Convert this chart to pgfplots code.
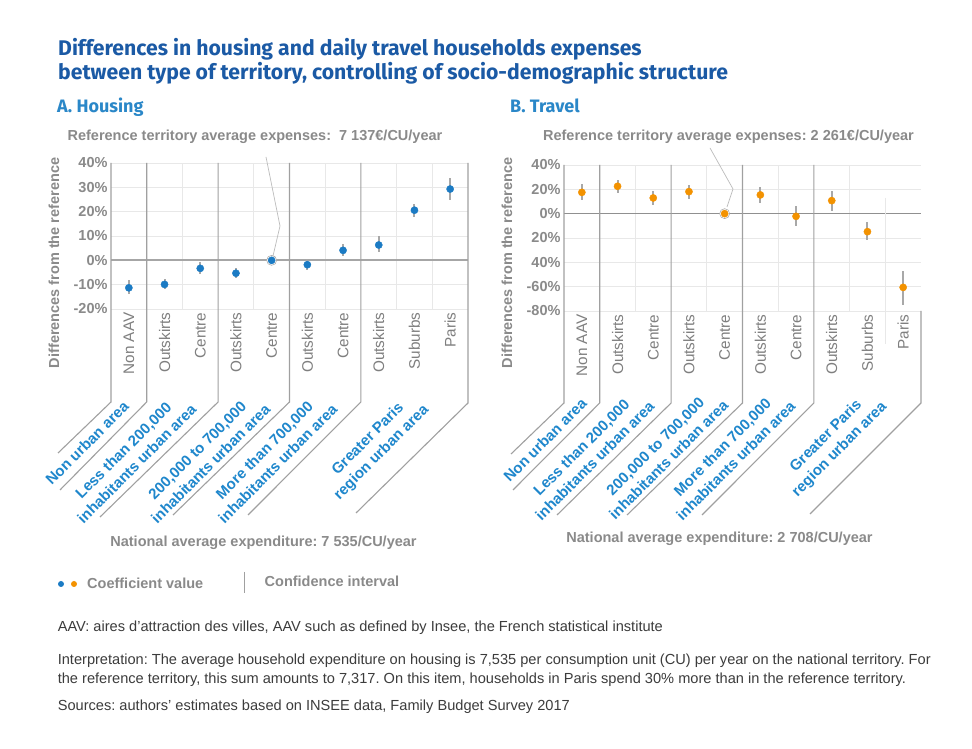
\documentclass[border=0pt]{standalone}
\usepackage{fontspec}
\setmainfont{Liberation Sans}
\newfontfamily\titlefont{Fira Sans}
\usepackage{pgfplots}
\pgfplotsset{compat=1.18}
\usepackage{pgfplotstable}

\definecolor{titleblue}{HTML}{1B5AA5}
\definecolor{subblue}{HTML}{2A87C8}
\definecolor{grpblue}{HTML}{1F87CC}
\definecolor{dotblue}{HTML}{1B7BC4}
\definecolor{dotorange}{HTML}{F39200}
\definecolor{txtgray}{HTML}{8A8A8A}
\definecolor{catgray}{HTML}{7F7F7F}
\definecolor{gridgray}{HTML}{E8E8E8}
\definecolor{sepgray}{HTML}{A0A0A0}
\definecolor{zerogray}{HTML}{A6A6A6}
\definecolor{cigray}{HTML}{A8A8A8}
\definecolor{notegray}{HTML}{3C3C3C}

% x = category index, y = coefficient (%), ep/em = confidence interval
\pgfplotstableread{
x y ep em
0 -11.3 3.2 2.6
1 -9.9 2.4 1.8
2 -3.3 2.6 2.2
3 -5.3 2.3 1.9
4 0 0 0
5 -1.8 2.5 2.3
6 4.1 2.6 2.3
7 6.3 3.8 3.0
8 20.6 2.7 2.6
9 29.3 4.7 4.5
}\housing

\pgfplotstableread{
x y ep em
0 17.5 6.6 6.2
1 22.5 5.5 5.5
2 12.9 5.5 5.7
3 18.1 5.8 6.0
4 0 0 0
5 15.4 6.2 6.6
6 -2.2 8.2 7.7
7 10.7 8.2 8.5
8 -14.8 7.6 6.8
9 -60.6 13.1 14.3
}\travel

\newcommand\gtext{\fontsize{14.5}{17}\selectfont\bfseries}

\pgfplotsset{
  panel/.style={
    scale only axis, width=357pt, height=146pt,
    xmin=-0.5, xmax=9.5, clip=false,
    xtick={0,...,9},
    xticklabels={Non AAV,Outskirts,Centre,Outskirts,Centre,Outskirts,Centre,Outskirts,Suburbs,Paris},
    xticklabel style={rotate=90, anchor=east, text=catgray,
      font=\fontsize{15.3}{18}\selectfont},
    yticklabel style={text=txtgray, font=\gtext},
    axis line style={draw=none}, tick style={draw=none},
    ymajorgrids, grid style={gridgray, line width=0.8pt},
    xminorgrids, minor grid style={gridgray, line width=0.8pt},
  },
  ci/.style={draw=none, mark=none, forget plot,
    error bars/.cd, y dir=both, y explicit, error mark=none,
    error bar style={draw=cigray, line width=2pt, solid}},
}

\begin{document}
\frenchspacing
\begin{tikzpicture}
\path[use as bounding box, fill=white] (0,0) rectangle (972pt,749pt);

% A. Housing
\begin{axis}[panel, at={(111pt,440pt)}, anchor=south west,
  ymin=-20, ymax=40, ytick={-20,-10,...,40},
  yticklabels={-20\%,-10\%,0\%,10\%,20\%,30\%,40\%},
  minor xtick={1.5,3.5,5.5,7.5,8.5}]
  \draw[zerogray, line width=1.8pt] (-0.5,0) -- (9.5,0);
  \addplot[ci] table[x=x, y=y, y error plus=ep, y error minus=em] {\housing};
  \addplot[only marks, mark=*, mark size=5pt,
    mark options={fill=white, draw=sepgray, line width=0.5pt}] coordinates {(4,0)};
  \addplot[only marks, mark=*, mark size=3.6pt,
    mark options={fill=dotblue, draw=dotblue}] table[x=x, y=y] {\housing};
\end{axis}

% B. Travel
\begin{axis}[panel, at={(564pt,438pt)}, anchor=south west,
  ymin=-80, ymax=40, ytick={-80,-60,...,40},
  yticklabels={-80\%,-60\%,40\%,20\%,0\%,20\%,40\%},
  minor xtick={1.5,3.5,5.5,7.5}]
  \draw[sepgray!90!black, line width=1.4pt] (-0.5,0) -- (9.5,0);
  \draw[gridgray, line width=0.8pt] (8.5,13) -- (8.5,-107);
  \addplot[ci] table[x=x, y=y, y error plus=ep, y error minus=em] {\travel};
  \addplot[only marks, mark=*, mark size=5pt,
    mark options={fill=white, draw=sepgray, line width=0.5pt}] coordinates {(4,0)};
  \addplot[only marks, mark=*, mark size=3.6pt,
    mark options={fill=dotorange, draw=dotorange}] table[x=x, y=y] {\travel};
\end{axis}

% decorations and texts in pixel coordinates (y downwards)
\begin{scope}[x=1pt, y=-1pt, shift={(0pt,749pt)}]
  % group separators and slanted leaders
  \begin{scope}[sepgray, line width=1.1pt]
    \draw (111,163) -- (111,402) -- (58,453);
    \draw (146.7,163) -- (146.7,402) -- (60,490);
    \draw (218.1,163) -- (218.1,402) -- (100,517);
    \draw (289.5,163) -- (289.5,402) -- (173,515);
    \draw (360.9,163) -- (360.9,402) -- (248,515);
    \draw (468,163) -- (468,403) -- (356,513);
    \draw (564,165) -- (564,403) -- (511,454);
    \draw (599.7,165) -- (599.7,403) -- (513,490);
    \draw (671.1,165) -- (671.1,403) -- (557,515);
    \draw (742.5,165) -- (742.5,403) -- (627,515);
    \draw (813.9,165) -- (813.9,403) -- (702,515);
    \draw (921,311) -- (921,403) -- (810,514);
  \end{scope}
  % reference leader lines
  \draw[sepgray!70, line width=0.7pt] (266,157) -- (280,226) -- (273,256);
  \draw[sepgray!70, line width=0.7pt] (710,148) -- (733,189) -- (727,207);

  % titles
  \node[anchor=base west, inner sep=0, text=titleblue,
    font=\titlefont\bfseries\fontsize{21.2}{25}\selectfont] at (58,56)
    {Differences in housing and daily travel households expenses};
  \node[anchor=base west, inner sep=0, text=titleblue,
    font=\titlefont\bfseries\fontsize{21.2}{25}\selectfont] at (58,80)
    {between type of territory, controlling of socio-demographic structure};
  \node[anchor=base west, inner sep=0, text=subblue,
    font=\titlefont\bfseries\fontsize{18}{22}\selectfont] at (57,113) {A. Housing};
  \node[anchor=base west, inner sep=0, text=subblue,
    font=\titlefont\bfseries\fontsize{18}{22}\selectfont] at (510,113) {B. Travel};

  % annotations
  \node[anchor=base, inner sep=0, text=txtgray, font=\gtext] at (255,141)
    {Reference territory average expenses:\ \ 7 137€/CU/year};
  \node[anchor=base, inner sep=0, text=txtgray, font=\gtext] at (728.5,141)
    {Reference territory average expenses: 2 261€/CU/year};
  \node[anchor=base, inner sep=0, text=txtgray, font=\gtext] at (263.5,547)
    {National average expenditure: 7 535/CU/year};
  \node[anchor=base, inner sep=0, text=txtgray, font=\gtext] at (719.5,543)
    {National average expenditure: 2 708/CU/year};

  % y labels
  \node[rotate=90, inner sep=0, text=txtgray, font=\gtext] at (54,263)
    {Differences from the reference};
  \node[rotate=90, inner sep=0, text=txtgray, font=\gtext] at (507,263)
    {Differences from the reference};

  % group labels
  \begin{scope}[every node/.style={rotate=45, align=center, inner sep=0,
      text=grpblue, font=\fontsize{15}{19}\selectfont\bfseries}]
    \node at (87,443) {Non urban area};
    \node at (130,457) {Less than 200,000\\inhabitants urban area};
    \node at (204,457) {200,000 to 700,000\\inhabitants urban area};
    \node at (271,457) {More than 700,000\\inhabitants urban area};
    \node at (375,446) {Greater Paris\\region urban area};
    \node at (545,440) {Non urban area};
    \node at (588,454) {Less than 200,000\\inhabitants urban area};
    \node at (662,453) {200,000 to 700,000\\inhabitants urban area};
    \node at (729,454) {More than 700,000\\inhabitants urban area};
    \node at (833,443) {Greater Paris\\region urban area};
  \end{scope}

  % legend
  \fill[dotblue] (61,584) circle (3);
  \fill[dotorange] (74,584) circle (3);
  \node[anchor=base west, inner sep=0, text=txtgray, font=\gtext] at (87,588.5)
    {Coefficient value};
  \draw[sepgray, line width=1pt] (244,572) -- (244,593);
  \node[anchor=base west, inner sep=0, text=txtgray, font=\gtext] at (264.5,587)
    {Confidence interval};

  % notes
  \begin{scope}[every node/.style={anchor=base west, inner sep=0, text=notegray,
      font=\fontsize{14.6}{17}\selectfont}]
    \node at (57.6,631.5) {AAV: aires d'attraction des villes, AAV such as defined by Insee, the French statistical institute};
    \node at (57.6,664.5) {Interpretation: The average household expenditure on housing is 7,535 per consumption unit (CU) per year on the national territory. For};
    \node at (57.6,683.5) {the reference territory, this sum amounts to 7,317. On this item, households in Paris spend 30\% more than in the reference territory.};
    \node at (57.6,710.5) {Sources: authors' estimates based on INSEE data, Family Budget Survey 2017};
  \end{scope}
\end{scope}
\end{tikzpicture}
\end{document}
